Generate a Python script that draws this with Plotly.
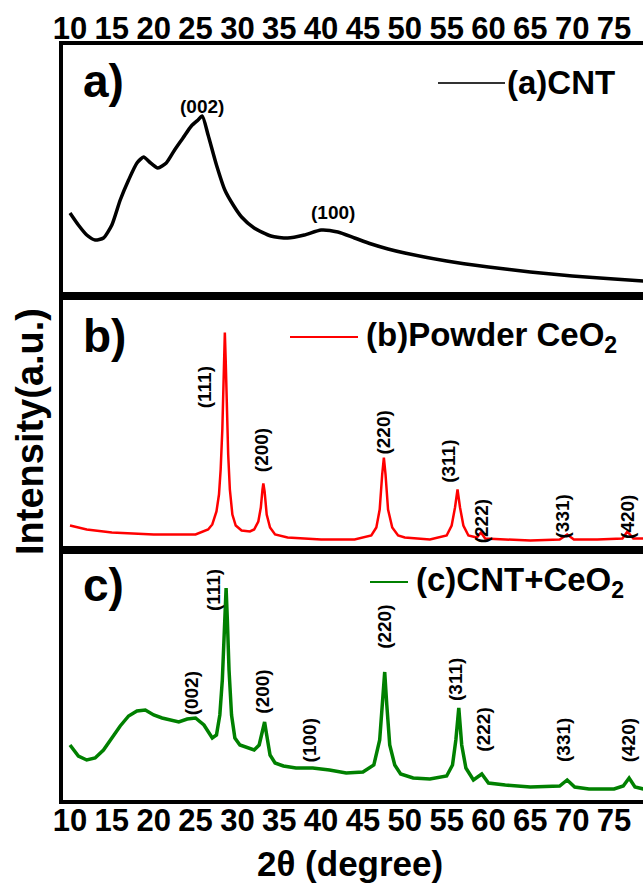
import plotly.graph_objects as go

# ---- XRD patterns (2-theta in degrees, intensity in a.u.) ----
cnt_2theta = [10, 11, 12, 13, 14, 15, 16, 17, 18, 18.8, 19.5, 20.5, 21.5, 22.5, 23.5,
              24.5, 25.3, 25.8, 26.5, 27.5, 28.5, 29.5, 30.5, 32, 34, 36, 38, 40, 42,
              44, 46, 48, 50, 55, 60, 65, 70, 75, 78.5]
cnt_int = [83, 71, 61, 56, 58, 71, 96, 116, 133, 139, 134, 128, 133, 146, 158,
           170, 176, 180, 161, 131, 106, 91, 79, 68, 60, 58, 61, 66, 64,
           58, 52, 47, 43, 35, 29, 24, 20, 17, 15]

ceo2_2theta = [10, 12, 15, 20, 25, 26.5, 27.0, 27.5, 27.8, 28.0, 28.2, 28.35, 28.5, 28.6,
               28.75, 28.9, 29.1, 29.4, 29.8, 30.5, 31.5, 32.0, 32.5, 32.8, 33.0, 33.1,
               33.25, 33.5, 33.9, 34.5, 36, 40, 44, 46.0, 46.6, 47.0, 47.3, 47.5, 47.7,
               48.0, 48.5, 49.2, 50, 53, 55.0, 55.6, 56.0, 56.3, 56.6, 57.0, 57.6, 58.6,
               59.1, 59.6, 62, 65, 68.5, 69.4, 70.2, 73, 76.0, 76.6, 77.3, 78.5]
ceo2_int = [24, 20, 17, 15, 15, 20, 25, 38, 55, 80, 120, 175, 217, 190,
            140, 95, 60, 35, 24, 19, 18, 20, 28, 42, 60, 66,
            58, 35, 22, 15, 12, 10, 10, 14, 22, 40, 75, 92, 75,
            40, 22, 14, 12, 10, 14, 24, 42, 60, 42, 24, 14, 12,
            17, 11, 10, 9, 10, 15, 10, 10, 11, 18, 11, 11]

comp_2theta = [10, 11, 12, 13, 14, 15, 16, 17, 18, 19, 20, 21, 22, 23, 24, 25, 26, 27,
               27.5, 27.9, 28.2, 28.45, 28.65, 28.8, 29.0, 29.3, 29.7, 30.3, 31.2, 32.0,
               32.6, 33.0, 33.25, 33.5, 33.9, 34.5, 35.5, 37, 39, 41, 43, 45, 46.3, 47.0,
               47.35, 47.6, 47.85, 48.2, 48.8, 49.5, 51, 53, 55, 55.7, 56.1, 56.45, 56.8,
               57.3, 58.2, 59.2, 60, 62, 65, 68.5, 69.4, 70.3, 72, 75, 76.1, 76.8, 77.5,
               78.5]
comp_int = [55, 44, 40, 42, 50, 62, 74, 84, 89, 90, 85, 82, 80, 78, 81, 82, 75, 62,
            65, 85, 120, 170, 212, 180, 130, 85, 62, 55, 52, 50,
            55, 68, 78, 65, 45, 37, 34, 32, 32, 30, 27, 28, 35, 60,
            100, 128, 95, 55, 35, 26, 22, 21, 24, 35, 60, 92, 55,
            32, 20, 26, 17, 15, 13, 14, 20, 13, 11, 11, 14, 22, 13,
            11]

# ---- reflection labels ----
cnt_hkl = ["(002)", "(100)"]
cnt_hkl_2theta = [25.8, 41.4]
cnt_hkl_y = [190, 84]

ceo2_hkl = ["(111)", "(200)", "(220)", "(311)", "(222)", "(331)", "(420)"]
ceo2_hkl_2theta = [26.1, 32.9, 47.4, 55.2, 59.2, 68.9, 76.6]
ceo2_hkl_y = [162, 99, 117, 88, 28, 33, 33]

comp_hkl = ["(002)", "(111)", "(200)", "(100)", "(220)", "(311)", "(222)", "(331)", "(420)"]
comp_hkl_2theta = [24.5, 27.1, 32.9, 38.6, 47.5, 56.0, 59.3, 68.9, 76.7]
comp_hkl_y = [107, 210, 108, 60, 173, 120, 70, 60, 60]

x_ticks = list(range(10, 80, 5))

# ---- figure geometry ----
W, H = 643, 886
ML, MR, MT, MB = 63, 0, 45, 86
PW, PH = W - ML - MR, H - MT - MB
FONT = "Liberation Sans, Arial, sans-serif"


def fx(p):
    return (p - ML) / PW


def fy(p):
    return (H - MB - p) / PH


d1 = fy(296)
d2 = fy(549.5)

fig = go.Figure()
fig.add_trace(go.Scatter(x=cnt_2theta, y=cnt_int, mode="lines", xaxis="x", yaxis="y",
                         line=dict(color="#000000", width=3.5, shape="spline", smoothing=0.6),
                         showlegend=False))
fig.add_trace(go.Scatter(x=ceo2_2theta, y=ceo2_int, mode="lines", xaxis="x2", yaxis="y2",
                         line=dict(color="#ff0000", width=2.5), showlegend=False))
fig.add_trace(go.Scatter(x=comp_2theta, y=comp_int, mode="lines", xaxis="x3", yaxis="y3",
                         line=dict(color="#008000", width=3.5), showlegend=False))

x_range = [9.164, 78.46]
tick_font = dict(family=FONT, size=31, color="black", weight="bold")
ax_common = dict(range=x_range, showline=True, linewidth=4, linecolor="black",
                 mirror=True, showgrid=False, zeroline=False, ticks="",
                 tickvals=x_ticks, tickfont=tick_font)
ay_common = dict(showline=True, linewidth=4, linecolor="black", showgrid=False,
                 zeroline=False, ticks="", showticklabels=False)

fig.update_layout(
    width=W, height=H,
    margin=dict(l=ML, r=MR, t=MT, b=MB),
    paper_bgcolor="white", plot_bgcolor="white",
    xaxis=dict(ax_common, anchor="y", side="top", showticklabels=True,
               ticklabelstandoff=-10),
    xaxis2=dict(ax_common, anchor="y2", showticklabels=False),
    xaxis3=dict(ax_common, anchor="y3", side="bottom", showticklabels=True,
                ticklabelstandoff=-10),
    yaxis=dict(ay_common, domain=[d1, 1], anchor="x", range=[0, 251]),
    yaxis2=dict(ay_common, domain=[d2, d1], anchor="x2", range=[0, 253.5]),
    yaxis3=dict(ay_common, domain=[0, d2], anchor="x3", range=[0, 250.5]),
)

annotations = []


def hkl_labels(names, xs, ys, xref, yref, angle):
    for n, xv, yv in zip(names, xs, ys):
        annotations.append(dict(text=n, x=xv, y=yv, xref=xref, yref=yref,
                                showarrow=False, textangle=angle,
                                font=dict(family=FONT, size=19, color="black", weight="bold")))


hkl_labels(cnt_hkl, cnt_hkl_2theta, cnt_hkl_y, "x", "y", 0)
hkl_labels(ceo2_hkl, ceo2_hkl_2theta, ceo2_hkl_y, "x2", "y2", -90)
hkl_labels(comp_hkl, comp_hkl_2theta, comp_hkl_y, "x3", "y3", -90)

# panel letters
for letter, ypx in [("a)", 81), ("b)", 336), ("c)", 585)]:
    annotations.append(dict(text=letter, x=fx(81), y=fy(ypx), xref="paper", yref="paper",
                            xanchor="left", yanchor="middle", showarrow=False,
                            font=dict(family=FONT, size=46, color="black", weight="bold")))

# legend entries: sample line + name
legend_items = [
    ("(a)CNT", "#333333", 438, 505, 83, 0),
    ("(b)Powder CeO<sub>2</sub>", "#ff0000", 290, 358, 337, 6),
    ("(c)CNT+CeO<sub>2</sub>", "#008000", 370, 408, 582, 6),
]
shapes = []
for name, color, x0, x1, ypx, gap in legend_items:
    shapes.append(dict(type="line", xref="paper", yref="paper",
                       x0=fx(x0), x1=fx(x1), y0=fy(ypx), y1=fy(ypx),
                       line=dict(color=color, width=2)))
    annotations.append(dict(text=name, x=fx(x1 + gap), y=fy(ypx), xref="paper", yref="paper",
                            xanchor="left", yanchor="middle", showarrow=False,
                            font=dict(family=FONT, size=33, color="black", weight="bold")))

# axis titles
annotations.append(dict(text="Intensity(a.u.)", x=fx(30), y=fy(432), xref="paper", yref="paper",
                        textangle=-90, showarrow=False, xanchor="center", yanchor="middle",
                        font=dict(family=FONT, size=38, color="black", weight="bold")))
annotations.append(dict(text="2\u03b8 (degree)", x=fx(350), y=fy(863), xref="paper", yref="paper",
                        showarrow=False, xanchor="center", yanchor="middle",
                        font=dict(family=FONT, size=35, color="black", weight="bold")))

fig.update_layout(annotations=annotations, shapes=shapes)
fig.write_html("out.html")
